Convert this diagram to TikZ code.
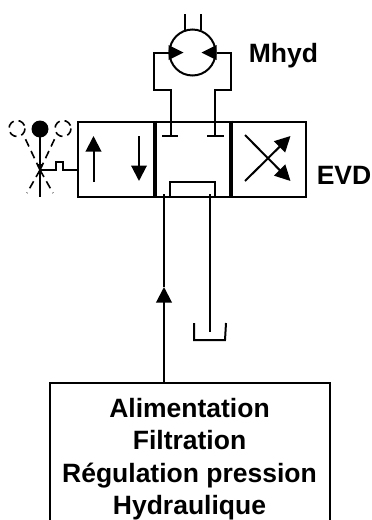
\documentclass[tikz,border=0pt]{standalone}
\usepackage{fontspec}
\setmainfont{Liberation Sans}
\usetikzlibrary{arrows.meta}
\tikzset{
    pipe/.style={draw, line width=2pt},
    flow/.style={pipe, -{Triangle[length=15.5pt,width=15.5pt]}},
    cell/.style={draw, line width=2pt, minimum width=76pt, minimum height=75pt, inner sep=0pt},
    label/.style={font=\bfseries\fontsize{26.5}{32.3}\selectfont},
    ghost/.style={line width=1.6pt, dash pattern=on 8pt off 5pt},
}
\begin{document}
\begin{tikzpicture}[x=1pt,y=-1pt]
    \useasboundingbox (0,0) rectangle (372,520);

    % valve
    \node[cell] (cellA) at (116,159) {};
    \node[cell] (cellB) at (192,159) {};
    \node[cell] (cellC) at (268,159) {};
    \draw[line width=3pt] (cellA.north east) -- (cellA.south east);
    \draw[line width=3pt] (cellB.north east) -- (cellB.south east);
    \node[label] (evd) at (344,175) {EVD};

    % left cell
    \draw[flow] (93.5,182) -- (93.5,136);
    \draw[flow] (139,136) -- (139,181);

    % right cell
    \draw[flow] (245,181) -- (290.5,136);
    \draw[flow] (245,135) -- (290.5,181);

    % motor
    \node[draw, circle, line width=2pt, minimum size=46pt, inner sep=0pt] (motor) at (192.5,52.5) {};
    \node[label] (mhyd) at (283.5,55.5) {Mhyd};
    \draw[pipe] (185,14) -- (185,30);
    \draw[pipe] (200.5,14) -- (200.5,30);
    \fill (motor.west) ++(0,-7.5) -- ++(15,7.5) -- ++(-15,7.5) -- cycle;
    \fill (motor.east) ++(0,-7.5) -- ++(-15,7.5) -- ++(15,7.5) -- cycle;

    % ports
    \draw[pipe] (motor.west) -- (153.5,52.5) -- (153.5,90) -- (171,90) -- (171,136);
    \draw[pipe] (motor.east) -- (231,52.5) -- (231,90) -- (215,90) -- (215,136);
    \draw[pipe] (162,136) -- (178,136);
    \draw[pipe] (207,136) -- (224,136);
    \draw[pipe] (170,196.5) -- (170,182) -- (215,182) -- (215,196.5);

    % supply and return
    \node[draw, line width=2pt, minimum width=280pt, minimum height=150pt, inner sep=0pt, anchor=north west] (supply) at (49,382) {};
    \node[label, align=center] (supplytext) at (189.5,459) {Alimentation\\Filtration\\Régulation pression\\Hydraulique};
    \coordinate (feed) at (164,382);
    \coordinate (tip) at (164,287);
    \draw[flow] (feed) -- (tip);
    \draw[pipe] (tip) -- (164,194);
    \draw[pipe] (209.5,194) -- (209.5,332);
    \draw[pipe] (194,323) -- (194,340) -- (225,340) -- (226,323);

    % control
    \fill (40,129) circle (8.5);
    \draw[pipe] (40,129) -- (40,197);
    \draw[-{Triangle[length=7pt,width=6pt]}, pipe] (40,150) -- (40,171);
    \draw[pipe] (40,170) -- (56,170) -- (56,162) -- (63,162) -- (63,170) -- (78,170);
    \draw[ghost] (17,128.5) circle (8);
    \draw[ghost] (63,128.5) circle (8);
    \draw[ghost] (40,170) -- (24,136);
    \draw[ghost] (40,170) -- (56,136);
    \draw[ghost] (40,170) -- (27,193);
    \draw[ghost] (40,170) -- (53,193);
\end{tikzpicture}
\end{document}
